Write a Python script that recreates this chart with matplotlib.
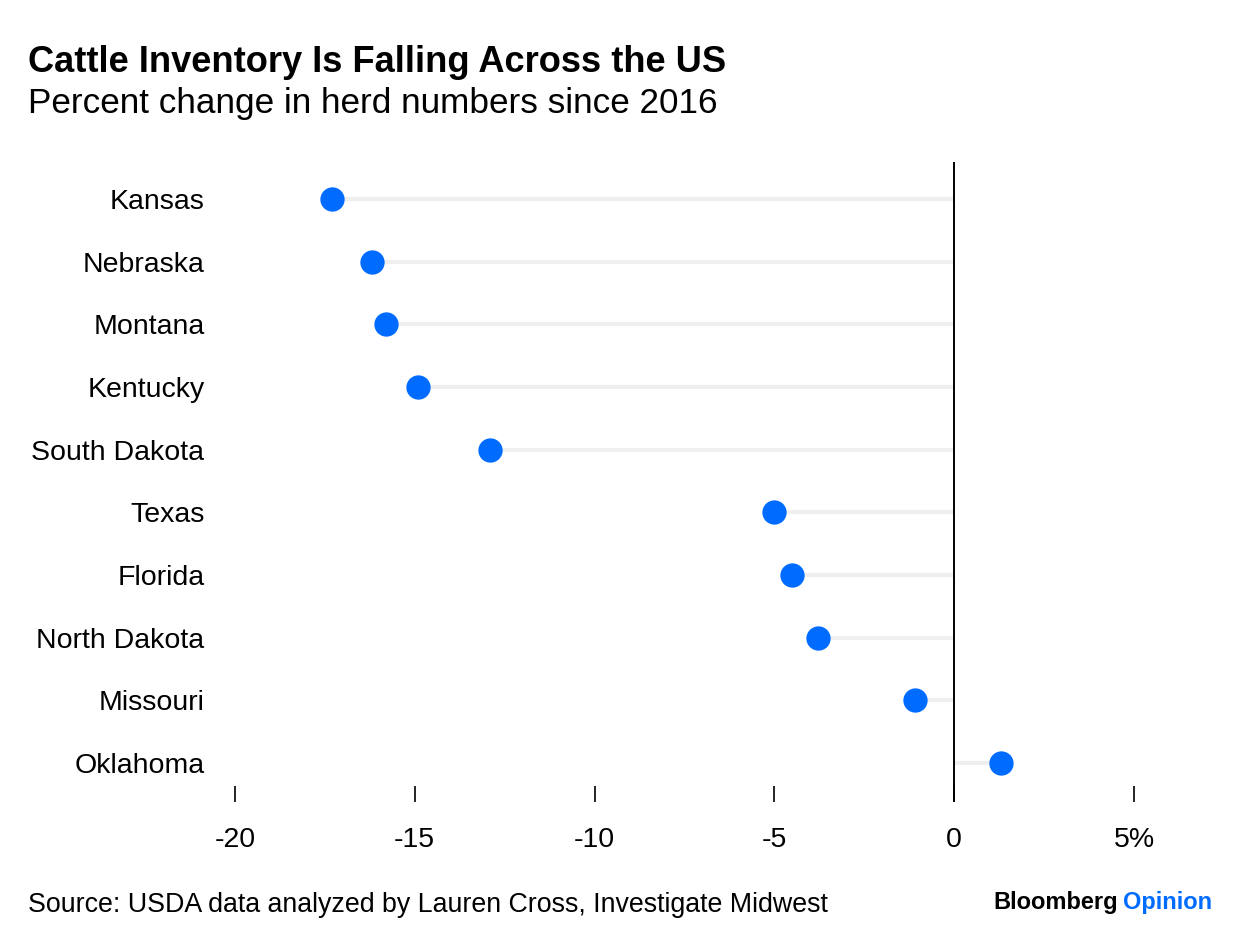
import matplotlib
matplotlib.use("Agg")
import matplotlib.pyplot as plt

states = ["Kansas", "Nebraska", "Montana", "Kentucky", "South Dakota",
          "Texas", "Florida", "North Dakota", "Missouri", "Oklahoma"]
pct_change = [-17.3, -16.2, -15.8, -14.9, -12.9, -5.0, -4.5, -3.8, -1.1, 1.3]
x_ticks = [-20, -15, -10, -5, 0, 5]
x_tick_labels = ["-20", "-15", "-10", "-5", "0", "5%"]

plt.rcParams['font.family'] = ['Liberation Sans', 'DejaVu Sans']

W, H = 1240, 946
fig = plt.figure(figsize=(W / 100, H / 100), dpi=100)
left, right, top, bottom = 235, 1134, 162, 802
ax = fig.add_axes([left / W, 1 - bottom / H, (right - left) / W, (bottom - top) / H])

y = list(range(len(states)))
ax.hlines(y, [min(v, 0) for v in pct_change], [max(v, 0) for v in pct_change],
          color="#efefef", linewidth=3, zorder=1)
ax.plot(pct_change, y, "o", color="#006cff", markersize=17.5, markeredgewidth=0,
        zorder=3, clip_on=False)
ax.axvline(0, color="black", linewidth=1.4, zorder=2)

ax.set_xlim(-20, 5)
ax.set_ylim(9.62, -0.59)
ax.set_yticks(y)
ax.set_yticklabels(states, fontsize=20.5)
ax.set_xticks(x_ticks)
ax.set_xticklabels(x_tick_labels, fontsize=20.5)
ax.tick_params(axis="y", length=0, pad=22)
ax.tick_params(axis="x", direction="in", length=11.5, width=1.2, color="black", pad=18)
for s in ax.spines.values():
    s.set_visible(False)

fig.text(28 / W, 1 - 62 / H, "Cattle Inventory Is Falling Across the US",
         fontsize=26.1, fontweight="bold", va="center", ha="left")
fig.text(28 / W, 1 - 104 / H, "Percent change in herd numbers since 2016",
         fontsize=25.3, va="center", ha="left")
fig.text(28 / W, 1 - 905 / H, "Source: USDA data analyzed by Lauren Cross, Investigate Midwest",
         fontsize=19.3, va="center", ha="left")
t = fig.text(1212 / W, 1 - 902 / H, "Opinion", fontsize=17, fontweight="bold",
             color="#006cff", va="center", ha="right")
fig.canvas.draw()
bb = t.get_window_extent()
fig.text((bb.x0 - 5) / W, 1 - 902 / H, "Bloomberg", fontsize=17, fontweight="bold",
         color="black", va="center", ha="right")

fig.savefig("out.png", dpi=100)
